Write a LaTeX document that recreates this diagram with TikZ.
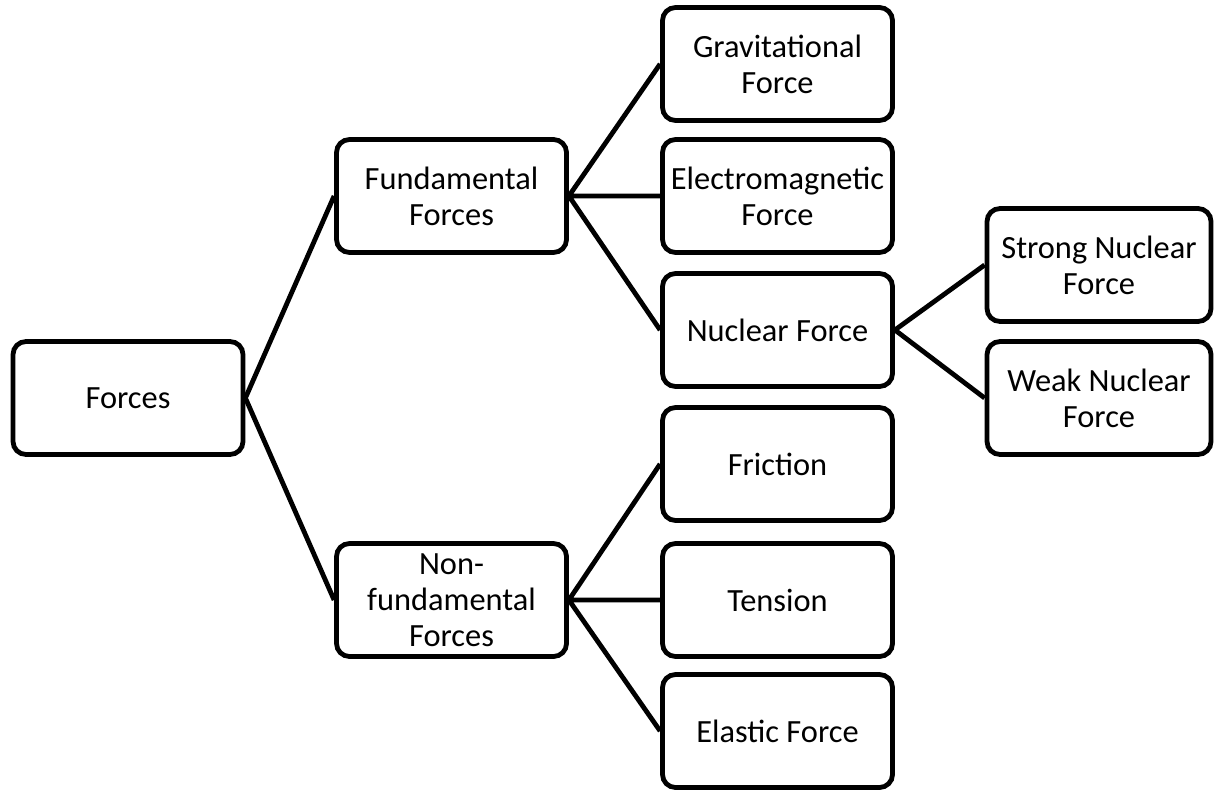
\documentclass[tikz,border=0pt]{standalone}
\usepackage{fontspec}
\setmainfont{Carlito}
\usetikzlibrary{positioning}

\begin{document}
\begin{tikzpicture}[x=0.5pt, y=-0.5pt,
  box/.style={draw, rectangle, rounded corners=6.5pt, line width=2.4pt, fill=white,
    minimum width=115pt, minimum height=56.5pt, align=center, inner sep=0pt,
    font=\fontsize{16.2}{18}\selectfont},
  link/.style={line width=2.4pt}]
\useasboundingbox (0,0) rectangle (1215,791);
% Root and first level
\node[box] (forces) at (128, 398) {Forces};
\node[box] (fund) at (451.5, 196) {Fundamental\\Forces};
\node[box] (nonfund) at (451.5, 600) {Non-\\fundamental\\Forces};

% Second level
\node[box] (grav) at (777.5, 64) {Gravitational\\Force};
\node[box] (em) at (777.5, 196) {Electromagnetic\\Force};
\node[box] (nuc) at (777.5, 330) {Nuclear Force};
\node[box] (fric) at (777.5, 464) {Friction};
\node[box] (tens) at (777.5, 600) {Tension};
\node[box] (elas) at (777.5, 731) {Elastic Force};

% Third level
\node[box, minimum width=112pt] (strong) at (1099, 265) {Strong Nuclear\\Force};
\node[box, minimum width=112pt] (weak) at (1099, 398) {Weak Nuclear\\Force};

% Connectors
\draw[link] (forces.east)--(fund.west) (forces.east)--(nonfund.west);
\draw[link] (fund.east)--(grav.west) (fund.east)--(em.west) (fund.east)--(nuc.west);
\draw[link] (nonfund.east)--(fric.west) (nonfund.east)--(tens.west) (nonfund.east)--(elas.west);
\draw[link] (nuc.east)--(strong.west) (nuc.east)--(weak.west);
\end{tikzpicture}
\end{document}
